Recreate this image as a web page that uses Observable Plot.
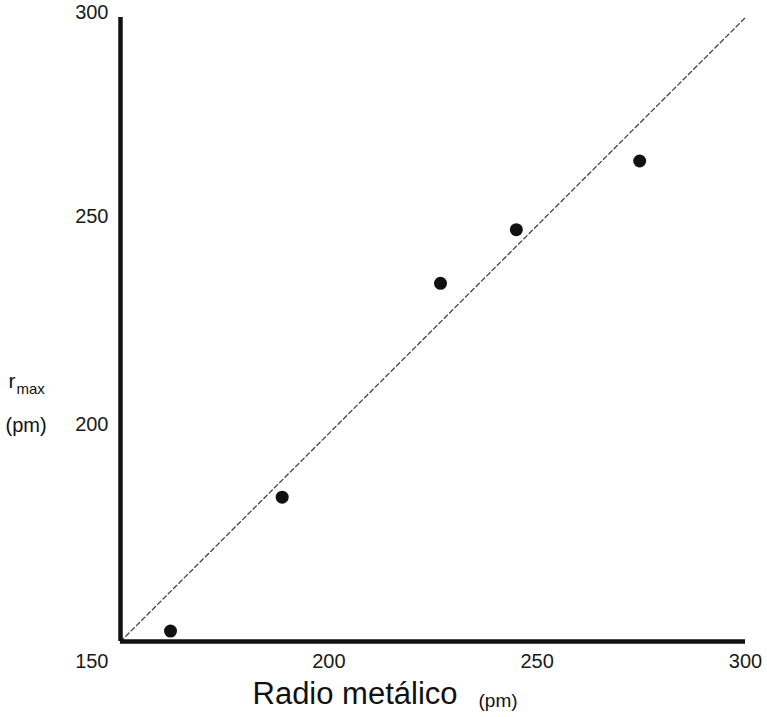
<!DOCTYPE html>
<html>
<head>
<meta charset="utf-8">
<script src="https://cdn.jsdelivr.net/npm/d3@7"></script>
<script src="https://cdn.jsdelivr.net/npm/@observablehq/plot@0.6"></script>
<style>
  html, body { margin: 0; padding: 0; background: #fff; }
</style>
</head>
<body>
<div id="chart"></div>
<script>
const radioMetalico = [162, 188.8, 226.8, 245, 274.6];
const rMax = [152.5, 184.7, 236.1, 249, 265.5];
const diagonal = [150, 300];
const xTicks = [200, 250, 300];
const yTicks = [200, 250, 300];
const originTick = [150];

const points = radioMetalico.map((x, i) => ({x, y: rMax[i]}));
const diagPts = diagonal.map(v => ({x: v, y: v}));
const font = "'Liberation Sans', Arial, Helvetica, sans-serif";

const chart = Plot.plot({
  width: 767,
  height: 717,
  marginLeft: 120,
  marginRight: 22,
  marginTop: 17,
  marginBottom: 76,
  x: {domain: [150, 300], axis: null},
  y: {domain: [150, 300], axis: null},
  style: {fontFamily: font, background: "#fff", color: "#1a1a1a"},
  marks: [
    Plot.line(diagPts, {x: "x", y: "y", stroke: "#444", strokeWidth: 1.3, strokeDasharray: "4.5,3"}),
    Plot.ruleX(originTick, {stroke: "#111", strokeWidth: 4.5}),
    Plot.ruleY(originTick, {stroke: "#111", strokeWidth: 4.5}),
    Plot.dot(points, {x: "x", y: "y", r: 6.5, fill: "#111", stroke: "none"}),
    Plot.text(xTicks, {x: d => d, frameAnchor: "bottom", dy: 20, fontSize: 20, fill: "#1a1a1a", lineAnchor: "middle"}),
    Plot.text(yTicks.filter(d => d < 300), {y: d => d, frameAnchor: "left", textAnchor: "end", dx: -12, dy: -9, fontSize: 20, fill: "#1a1a1a", lineAnchor: "middle"}),
    Plot.text(yTicks.filter(d => d === 300), {y: d => d, frameAnchor: "left", textAnchor: "end", dx: -12, dy: -5, fontSize: 20, fill: "#1a1a1a", lineAnchor: "middle"}),
    Plot.text(originTick, {x: d => d, y: d => d, textAnchor: "end", dx: -12, dy: 20, fontSize: 20, fill: "#1a1a1a", lineAnchor: "middle"}),
    Plot.text(["r"], {frameAnchor: "top-left", dx: -112, dy: 370, fontSize: 21, textAnchor: "start", lineAnchor: "bottom", fill: "#111"}),
    Plot.text(["max"], {frameAnchor: "top-left", dx: -104, dy: 376, fontSize: 15, textAnchor: "start", lineAnchor: "bottom", fill: "#111"}),
    Plot.text(["(pm)"], {frameAnchor: "top-left", dx: -115, dy: 414, fontSize: 20, textAnchor: "start", lineAnchor: "bottom", fill: "#111"}),
    Plot.text(["Radio metálico"], {frameAnchor: "top-left", dx: 132, dy: 686, fontSize: 31, textAnchor: "start", lineAnchor: "bottom", fill: "#111"}),
    Plot.text(["(pm)"], {frameAnchor: "top-left", dx: 358, dy: 689, fontSize: 19, textAnchor: "start", lineAnchor: "bottom", fill: "#111"})
  ]
});
document.getElementById("chart").appendChild(chart);
</script>
</body>
</html>
